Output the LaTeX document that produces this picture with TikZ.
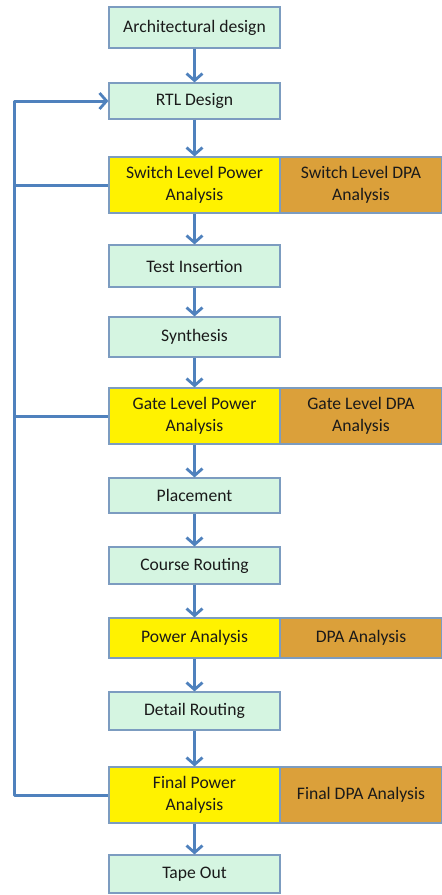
\documentclass[tikz,border=0pt]{standalone}
\usepackage{fontspec}
\setmainfont{Carlito}
\usetikzlibrary{arrows.meta,positioning}
\definecolor{mint}{HTML}{D5F5E1}
\definecolor{edgeblue}{HTML}{7C9CC0}
\definecolor{yel}{HTML}{FFF200}
\definecolor{ochre}{HTML}{DBA03A}
\definecolor{flow}{HTML}{4F81BD}
\definecolor{txt}{HTML}{1A1A1A}
\tikzset{
  base/.style={draw=edgeblue, line width=1.2pt, minimum width=171pt, inner sep=1pt,
    align=center, text=txt, font=\fontsize{17.6}{22}\selectfont},
  gbox/.style={base, fill=mint},
  ybox/.style={base, fill=yel},
  obox/.style={base, fill=ochre, minimum width=162pt},
  flowarrow/.style={draw=flow, line width=3pt, -{Straight Barb[length=7pt,width=16pt,line width=2.8pt]}},
  fbline/.style={draw=flow, line width=3pt}
}
\begin{document}
\begin{tikzpicture}[x=1pt,y=-1pt]
\useasboundingbox (0,0) rectangle (442,895);
\node[gbox, minimum height=41pt] (arch) at (194.5,27.5) {Architectural design};
\node[gbox, minimum height=36pt] (rtl) at (194.5,101) {RTL Design};
\node[ybox, minimum height=56pt] (swp) at (194.5,185) {Switch Level Power\\Analysis};
\node[obox, minimum height=56pt] (swd) at (361,185) {Switch Level DPA\\Analysis};
\node[gbox, minimum height=42pt] (test) at (194.5,266) {Test Insertion};
\node[gbox, minimum height=40pt] (syn) at (194.5,337) {Synthesis};
\node[ybox, minimum height=56pt] (gtp) at (194.5,416) {Gate Level Power\\Analysis};
\node[obox, minimum height=56pt] (gtd) at (361,416) {Gate Level DPA\\Analysis};
\node[gbox, minimum height=35pt] (plc) at (194.5,495.5) {Placement};
\node[gbox, minimum height=37pt] (crs) at (194.5,565.5) {Course Routing};
\node[ybox, minimum height=40pt] (pwr) at (194.5,638) {Power Analysis};
\node[obox, minimum height=40pt] (dpa) at (361,638) {DPA Analysis};
\node[gbox, minimum height=38pt] (det) at (194.5,711) {Detail Routing};
\node[ybox, minimum height=56pt] (fin) at (194.5,795) {Final Power\\Analysis};
\node[obox, minimum height=56pt] (find) at (361,795) {Final DPA Analysis};
\node[gbox, minimum height=38pt] (tape) at (194.5,874) {Tape Out};

\foreach \a/\b in {arch/rtl, rtl/swp, swp/test, test/syn, syn/gtp, gtp/plc, plc/crs, crs/pwr, pwr/det, det/fin, fin/tape}
  \draw[flowarrow] (\a.south) -- (\b.north);

\coordinate (lc) at (14,101);
\draw[fbline] (swp.west) -- (swp.west -| lc);
\draw[fbline] (gtp.west) -- (gtp.west -| lc);
\draw[fbline, line join=round] (fin.west) -| (lc) -- ([xshift=-4pt]rtl.west);
\draw[flowarrow] ([xshift=-30pt]rtl.west) -- (rtl.west);
\end{tikzpicture}
\end{document}
